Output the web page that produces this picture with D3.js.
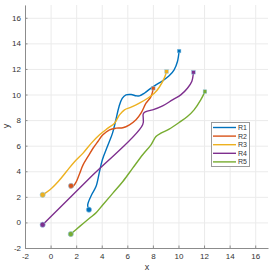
<!DOCTYPE html>
<html lang="en">
<head>
    <meta charset="UTF-8">
    <title>trajectories</title>
    <style>
        html,body{margin:0;padding:0;background:#fff;}
        #main{width:276px;height:274px;}
        text{font-family:"Liberation Sans",Arial,sans-serif;fill:#333;}
    </style>
</head>
<body>
<div id="main"></div>
<script src="https://d3js.org/d3.v7.min.js"></script>
<script>
    /* series names and colours */
    const names=['R1','R2','R3','R4','R5']
    const colors=['#0072BD','#D95319','#EDB120','#7E2F8E','#77AC30']

    /* tick labels */
    const xTicks=[-2,0,2,4,6,8,10,12,14,16]
    const yTicks=[-2,0,2,4,6,8,10,12,14,16]

    /* path points [x,y] */
    const r1=[[3,1],[2.9,1.35],[3.2,2.15],[3.55,2.8],[3.8,3.85],[4.05,4.9],[4.45,5.95],[4.85,7],[5.1,8],[5.35,9.05],[5.6,9.7],[5.9,9.97],[6.3,10],[6.7,9.9],[6.95,9.9],[7.33,10.1],[7.72,10.4],[8.24,10.75],[8.76,11.07],[9.27,11.46],[9.66,11.93],[9.92,12.58],[10.05,13.4]]
    const r2=[[1.6,2.86],[1.5,2.72],[1.76,2.81],[2.02,3.2],[2.28,3.85],[2.54,4.5],[2.93,5.16],[3.32,5.8],[3.7,6.33],[4.09,6.85],[4.61,7.24],[5.13,7.37],[5.65,7.4],[6.17,7.63],[6.68,8.02],[7.07,8.54],[7.46,9.32],[7.85,9.84],[8.03,10.49]]
    const r3=[[-0.62,2.16],[-0.05,2.55],[0.6,3.2],[1.24,3.98],[1.89,4.77],[2.54,5.42],[3.19,6.2],[3.83,6.85],[4.48,7.37],[5,7.76],[5.39,8.41],[5.78,8.8],[6.3,9.01],[6.94,9.32],[7.59,9.71],[8.11,10.1],[8.5,10.57],[8.89,11.28],[9.07,11.8]]
    const r4=[[-0.62,-0.18],[3.3,3.7],[7.2,7.63],[7.25,8.5],[7.46,8.67],[7.98,8.8],[8.76,9.11],[9.53,9.58],[10.18,9.97],[10.7,10.49],[11.04,11.02],[11.17,11.74]]
    const r5=[[1.58,-0.91],[2.28,-0.31],[3.06,0.34],[3.58,0.78],[4.09,1.38],[4.87,2.29],[5.65,3.2],[6.42,4.24],[7.2,5.29],[7.85,6.07],[8.24,6.72],[8.63,6.98],[9.27,7.29],[10.05,7.81],[10.7,8.28],[11.22,8.8],[11.74,9.58],[12.07,10.23]]
    const paths=[r1,r2,r3,r4,r5]

    const width=276
    const height=274

    const svg=d3.select('#main').append('svg')
        .attr('width',width)
        .attr('height',height)

    /* scales */
    const xScale=d3.scaleLinear().domain([-2,17]).range([25,268])
    const yScale=d3.scaleLinear().domain([-2,17]).range([248,5])

    /* grid */
    svg.append('g')
        .attr('transform','translate(0,248)')
        .call(d3.axisBottom(xScale).tickValues(xTicks).tickSize(-243).tickFormat(''))
        .call(g=>g.select('.domain').remove())
        .selectAll('line').attr('stroke','#ebebeb')
    svg.append('g')
        .attr('transform','translate(25,0)')
        .call(d3.axisLeft(yScale).tickValues(yTicks).tickSize(-243).tickFormat(''))
        .call(g=>g.select('.domain').remove())
        .selectAll('line').attr('stroke','#ebebeb')

    /* axes, ticks pointing inward, plain hyphen for negatives */
    const xAxis=svg.append('g')
        .attr('transform','translate(0,248)')
        .call(d3.axisBottom(xScale).tickValues(xTicks).tickFormat(d=>String(d)).tickSizeInner(-2.5).tickSizeOuter(0).tickPadding(5))
    const yAxis=svg.append('g')
        .attr('transform','translate(25,0)')
        .call(d3.axisLeft(yScale).tickValues(yTicks).tickFormat(d=>String(d)).tickSizeInner(-2.5).tickSizeOuter(0).tickPadding(4))
    ;[xAxis,yAxis].forEach(a=>{
        a.select('.domain').attr('stroke','#8c8c8c')
        a.selectAll('.tick line').attr('stroke','#8c8c8c')
        a.selectAll('text').style('font-size','8px').attr('fill','#333')
            .style('font-family','"Liberation Sans",Arial,sans-serif')
    })

    svg.append('text').attr('x',147).attr('y',270).attr('text-anchor','middle')
        .style('font-size','9px').text('x')
    svg.append('text').attr('transform','translate(9,126) rotate(-90)').attr('text-anchor','middle')
        .style('font-size','9px').text('y')

    /* lines */
    const line=d3.line()
        .x(d=>xScale(d[0]))
        .y(d=>yScale(d[1]))
        .curve(d3.curveCatmullRom.alpha(0.5))

    paths.forEach((p,i)=>{
        svg.append('path')
            .attr('d',line(p))
            .attr('fill','none')
            .attr('stroke',colors[i])
            .attr('stroke-width',1.4)
    })

    /* start and end markers */
    paths.forEach((p,i)=>{
        const s=p[0]
        const e=p[p.length-1]
        svg.append('circle')
            .attr('cx',xScale(s[0])).attr('cy',yScale(s[1])).attr('r',2.6)
            .attr('fill',colors[i]).attr('stroke','#8fc3e0').attr('stroke-width',0.6)
        svg.append('rect')
            .attr('x',xScale(e[0])-1.8).attr('y',yScale(e[1])-1.8)
            .attr('width',3.6).attr('height',3.6)
            .attr('fill',colors[i]).attr('stroke','#8fc3e0').attr('stroke-width',0.5)
    })

    /* legend */
    const legend=svg.append('g')
    legend.append('rect')
        .attr('x',211.5).attr('y',122.5).attr('width',38).attr('height',44)
        .attr('fill','#fff').attr('stroke','#9a9a9a').attr('stroke-width',1)
    names.forEach((n,i)=>{
        const y=127.5+i*8.6
        legend.append('line')
            .attr('x1',213).attr('x2',236).attr('y1',y).attr('y2',y)
            .attr('stroke',colors[i]).attr('stroke-width',1.4)
        legend.append('text')
            .attr('x',238).attr('y',y).attr('dy','0.35em')
            .style('font-size','7px').text(n)
    })
</script>
</body>
</html>
